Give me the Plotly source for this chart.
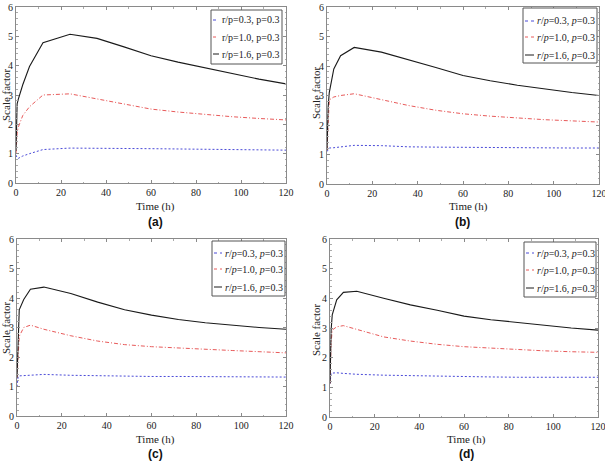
import plotly.graph_objects as go

W, H = 605, 462

time_h = [0, 0.5, 1, 3, 6, 12, 24, 36, 48, 60, 72, 84, 96, 108, 120]

black_a = [1.1, 2.7, 2.85, 3.35, 3.97, 4.78, 5.07, 4.93, 4.64, 4.34, 4.12, 3.93, 3.72, 3.54, 3.38]
red_a = [1.0, 1.7, 1.9, 2.3, 2.6, 3.0, 3.04, 2.86, 2.68, 2.52, 2.42, 2.33, 2.26, 2.2, 2.15]
blue_a = [0.95, 0.86, 0.84, 0.92, 1.0, 1.14, 1.19, 1.19, 1.18, 1.17, 1.16, 1.15, 1.14, 1.13, 1.12]

black_b = [1.15, 2.6, 3.1, 3.9, 4.35, 4.63, 4.47, 4.22, 3.95, 3.68, 3.5, 3.35, 3.22, 3.1, 3.0]
red_b = [1.15, 2.4, 2.85, 2.95, 3.0, 3.06, 2.85, 2.66, 2.5, 2.38, 2.3, 2.23, 2.18, 2.14, 2.1]
blue_b = [1.1, 1.18, 1.22, 1.23, 1.25, 1.31, 1.3, 1.26, 1.25, 1.24, 1.24, 1.23, 1.23, 1.22, 1.22]

black_c = [1.3, 2.9, 3.6, 3.95, 4.3, 4.37, 4.15, 3.86, 3.6, 3.42, 3.27, 3.16, 3.07, 3.0, 2.94]
red_c = [1.3, 2.3, 2.7, 3.0, 3.08, 2.94, 2.72, 2.54, 2.42, 2.35, 2.3, 2.26, 2.22, 2.18, 2.14]
blue_c = [0.99, 1.33, 1.36, 1.37, 1.38, 1.41, 1.38, 1.36, 1.35, 1.34, 1.34, 1.33, 1.33, 1.32, 1.32]

black_d = [1.13, 2.93, 3.44, 3.95, 4.2, 4.24, 4.0, 3.78, 3.6, 3.4, 3.28, 3.18, 3.08, 3.0, 2.93]
red_d = [1.13, 2.5, 2.93, 3.04, 3.08, 2.95, 2.7, 2.56, 2.45, 2.37, 2.32, 2.28, 2.23, 2.2, 2.18]
blue_d = [1.13, 1.47, 1.48, 1.49, 1.47, 1.44, 1.41, 1.39, 1.37, 1.35, 1.35, 1.34, 1.34, 1.34, 1.34]

legend_labels_plain = ["r/p=0.3, p=0.3", "r/p=1.0, p=0.3", "r/p=1.6, p=0.3"]
legend_labels_italic = ["<i>r</i>/<i>p</i>=0.3, <i>p</i>=0.3",
                        "<i>r</i>/<i>p</i>=1.0, <i>p</i>=0.3",
                        "<i>r</i>/<i>p</i>=1.6, <i>p</i>=0.3"]
panel_tags = ["(a)", "(b)", "(c)", "(d)"]
x_ticks = [0, 20, 40, 60, 80, 100, 120]
y_ticks = [0, 1, 2, 3, 4, 5, 6]
x_title = "Time (h)"
y_title = "Scale factor"

# panel geometry in pixels
panels = [
    dict(l=16, r=286, t=7, b=183, data=(blue_a, red_a, black_a), labels=legend_labels_plain,
         xt=(155, 206), yt=(6, 95), tag=(155, 222),
         leg=dict(l=211, r=282, t=10, b=64, rows=[20, 37, 54], sx=213, tx=220)),
    dict(l=327, r=599, t=7, b=184, data=(blue_b, red_b, black_b), labels=legend_labels_italic,
         xt=(468, 206), yt=(316, 93), tag=(462, 222),
         leg=dict(l=523, r=597, t=8, b=63, rows=[21, 37, 55], sx=525, tx=535)),
    dict(l=17, r=286, t=239, b=416, data=(blue_c, red_c, black_c), labels=legend_labels_italic,
         xt=(155, 439), yt=(6, 328), tag=(155, 454),
         leg=dict(l=212, r=285, t=241, b=296, rows=[253, 269, 287], sx=214, tx=223)),
    dict(l=330, r=598, t=239, b=417, data=(blue_d, red_d, black_d), labels=legend_labels_italic,
         xt=(466, 439), yt=(316, 330), tag=(466, 454),
         leg=dict(l=524, r=596, t=242, b=297, rows=[253, 270, 288], sx=526, tx=535)),
]

colors = ["#4a4ad8", "#e85a5a", "#1a1a1a"]
dashes = ["2px,2px", "4px,2px,1px,2px", "solid"]
widths = [1.0, 1.0, 1.1]

def px(x):
    return x / W

def py(y):
    return 1 - y / H

fig = go.Figure()
shapes = []
annotations = []
serif = "Liberation Serif"
txt = "#222222"

for i, p in enumerate(panels):
    n = "" if i == 0 else str(i + 1)
    for k in range(3):
        fig.add_trace(go.Scatter(
            x=time_h, y=p["data"][k], mode="lines",
            line=dict(color=colors[k], dash=dashes[k], width=widths[k]),
            xaxis="x" + n, yaxis="y" + n, showlegend=False,
        ))
    axis_common = dict(
        showline=True, linecolor="#8a8a8a", linewidth=1, mirror="allticks",
        ticks="inside", ticklen=3, tickcolor="#8a8a8a", showgrid=False, zeroline=False,
        tickfont=dict(family=serif, size=10, color=txt), automargin=False,
        ticklabeloverflow="allow",
    )
    fig.update_layout(**{
        "xaxis" + n: dict(axis_common, domain=[px(p["l"]), px(p["r"])], range=[0, 120],
                          tickvals=x_ticks, anchor="y" + n,
                          minor=dict(ticks="inside", ticklen=1.5, tickcolor="#aaaaaa", dtick=10)),
        "yaxis" + n: dict(axis_common, domain=[py(p["b"]), py(p["t"])], range=[0, 6],
                          tickvals=y_ticks, anchor="x" + n,
                          minor=dict(ticks="inside", ticklen=1.5, tickcolor="#aaaaaa", dtick=0.2)),
    })
    # axis titles
    annotations.append(dict(text=x_title, xref="paper", yref="paper",
                            x=px(p["xt"][0]), y=py(p["xt"][1]), xanchor="center", yanchor="middle",
                            showarrow=False, font=dict(family=serif, size=11, color=txt)))
    annotations.append(dict(text=y_title, xref="paper", yref="paper", textangle=-90,
                            x=px(p["yt"][0]), y=py(p["yt"][1]), xanchor="center", yanchor="middle",
                            showarrow=False, font=dict(family=serif, size=11, color=txt)))
    # manual legend
    lg = p["leg"]
    shapes.append(dict(type="rect", xref="paper", yref="paper",
                       x0=px(lg["l"]), x1=px(lg["r"]), y0=py(lg["b"]), y1=py(lg["t"]),
                       line=dict(color="#555", width=1), fillcolor="white", layer="above"))
    for k in range(3):
        yy = py(lg["rows"][k])
        shapes.append(dict(type="line", xref="paper", yref="paper",
                           x0=px(lg["sx"]), x1=px(lg["tx"] - 1), y0=yy, y1=yy,
                           line=dict(color=colors[k], dash="dot" if k < 2 else "solid", width=1),
                           layer="above"))
        annotations.append(dict(text=p["labels"][k], xref="paper", yref="paper",
                                x=px(lg["tx"]), y=yy, xanchor="left", yanchor="middle",
                                showarrow=False, font=dict(family=serif, size=10, color=txt)))
    # panel tag
    annotations.append(dict(text="<b>" + panel_tags[i] + "</b>", xref="paper", yref="paper",
                            x=px(p["tag"][0]), y=py(p["tag"][1]),
                            xanchor="center", yanchor="middle", showarrow=False,
                            font=dict(family="Liberation Sans", size=12, color="#111")))

fig.update_layout(
    width=W, height=H, margin=dict(l=0, r=0, t=0, b=0),
    paper_bgcolor="white", plot_bgcolor="white",
    shapes=shapes, annotations=annotations, showlegend=False,
)

fig.write_html("out.html")
